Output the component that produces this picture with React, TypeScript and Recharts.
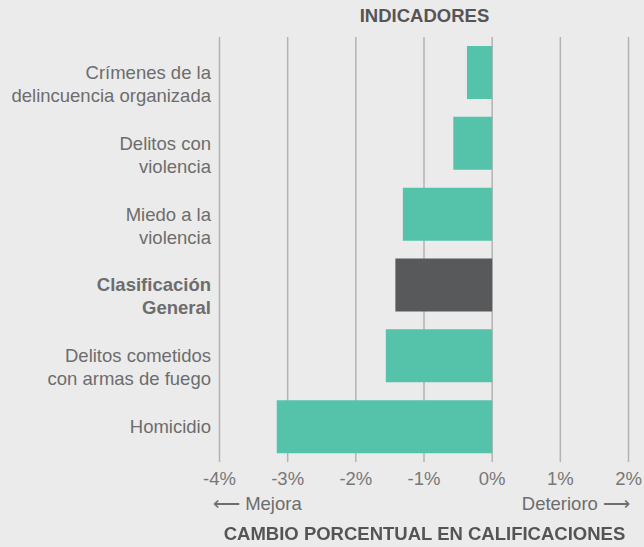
import { Bar, BarChart, CartesianGrid, Cell, XAxis, YAxis } from "recharts";

const indicators = [
  "Crímenes de la|delincuencia organizada",
  "Delitos con|violencia",
  "Miedo a la|violencia",
  "Clasificación|General",
  "Delitos cometidos|con armas de fuego",
  "Homicidio",
];
const changes = [-0.37, -0.57, -1.31, -1.42, -1.56, -3.16];
const highlighted = [false, false, false, true, false, false];
const xTicks = [-4, -3, -2, -1, 0, 1, 2];

const TEAL = "#55c2aa";
const DARK = "#58595b";
const FONT = "'Liberation Sans', Arial, sans-serif";
const PLOT_LEFT = 219.5;

const data = indicators.map((name, i) => ({ name, value: changes[i], bold: highlighted[i] }));

function CategoryTick(props: { y?: number; payload?: { value: string; index: number } }) {
  const { y = 0, payload } = props;
  const lines = String(payload?.value ?? "").split("|");
  const bold = highlighted[payload?.index ?? 0];
  const x = 211;
  return (
    <text
      x={x}
      y={y}
      textAnchor="end"
      fontFamily={FONT}
      fontSize={18.5}
      fontWeight={bold ? 700 : 400}
      fill="#6d6d6d"
    >
      {lines.map((l, i) => (
        <tspan key={i} x={x} dy={i === 0 ? "0.35em" : 23}>
          {l}
        </tspan>
      ))}
    </text>
  );
}

function PercentTick(props: { x?: number; y?: number; payload?: { value: number } }) {
  const { x = 0, payload } = props;
  return (
    <text x={x} y={485} textAnchor="middle" fontFamily={FONT} fontSize={18.5} fill="#777">
      {`${payload?.value}%`}
    </text>
  );
}

export default function App() {
  return (
    <div
      style={{
        position: "fixed",
        left: 0,
        top: 0,
        width: 644,
        height: 547,
        background: "#ebebeb",
        fontFamily: FONT,
      }}
    >
      <div
        style={{
          position: "absolute",
          left: 223,
          width: 403,
          top: 5,
          textAlign: "center",
          fontWeight: 700,
          fontSize: 18.5,
          color: "#555",
        }}
      >
        INDICADORES
      </div>
      <BarChart
        layout="vertical"
        width={644}
        height={547}
        data={data}
        margin={{ top: 37, right: 15.5, left: 0, bottom: 0 }}
        barSize={53}
      >
        <CartesianGrid horizontal={false} stroke="#b3b3b3" strokeWidth={1.5} />
        <XAxis
          type="number"
          domain={[-4, 2]}
          ticks={xTicks}
          axisLine={false}
          tickLine={false}
          tick={<PercentTick />}
          height={85}
        />
        <YAxis
          type="category"
          dataKey="name"
          width={PLOT_LEFT}
          axisLine={false}
          tickLine={false}
          tick={<CategoryTick />}
          interval={0}
        />
        <Bar dataKey="value" isAnimationActive={false}>
          {data.map((d, i) => (
            <Cell key={i} fill={d.bold ? DARK : TEAL} />
          ))}
        </Bar>
      </BarChart>
      <div style={{ position: "absolute", left: 213, top: 493, fontSize: 18.5, color: "#6d6d6d" }}>
        ⟵ Mejora
      </div>
      <div
        style={{
          position: "absolute",
          right: 14,
          top: 493,
          fontSize: 18.5,
          color: "#6d6d6d",
          textAlign: "right",
        }}
      >
        Deterioro ⟶
      </div>
      <div
        style={{
          position: "absolute",
          left: 200,
          width: 449,
          top: 523,
          textAlign: "center",
          fontWeight: 700,
          fontSize: 18.5,
          color: "#555",
        }}
      >
        CAMBIO PORCENTUAL EN CALIFICACIONES
      </div>
    </div>
  );
}
